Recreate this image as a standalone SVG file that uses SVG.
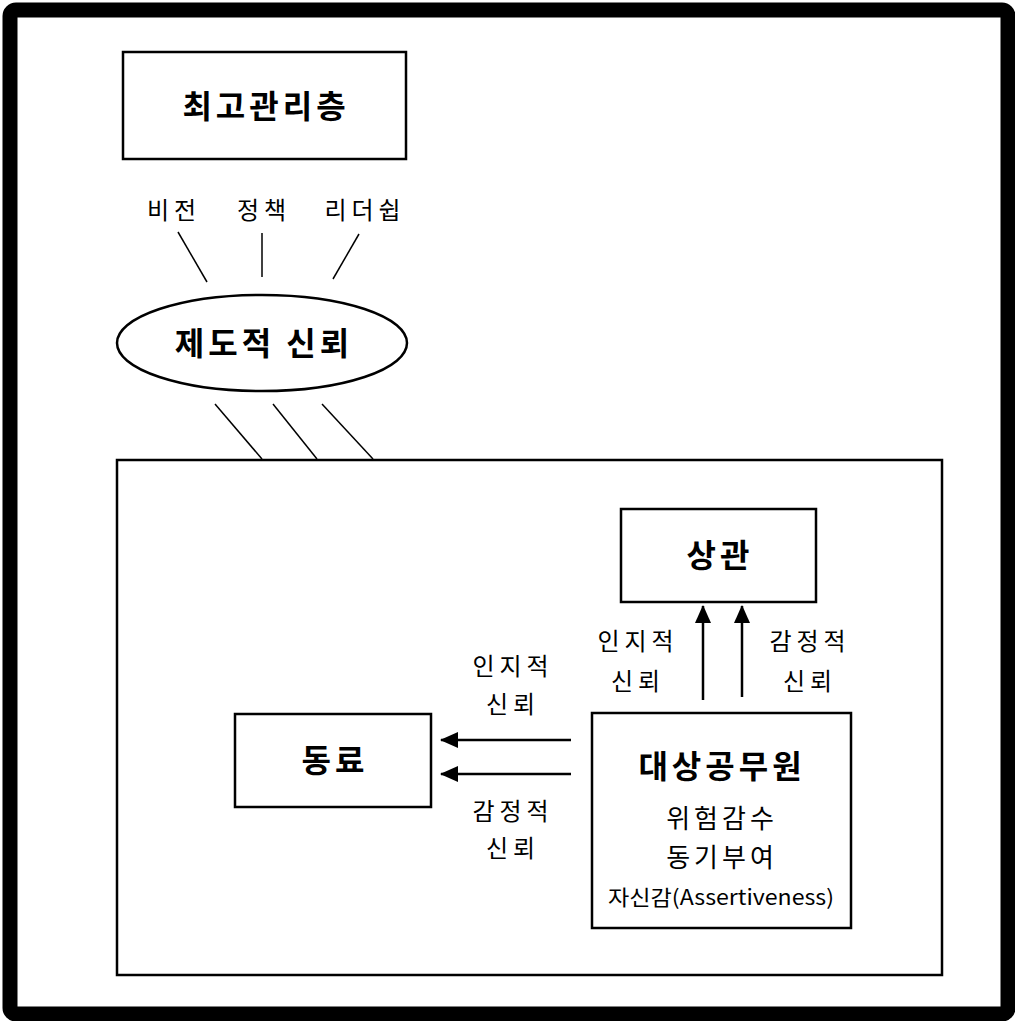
<svg xmlns="http://www.w3.org/2000/svg" width="1015" height="1021" viewBox="0 0 1015 1021">
<style>
text{font-family:"Noto Sans CJK KR","Noto Sans",sans-serif;fill:#000;text-anchor:middle}
.b{font-weight:bold;font-size:32px;letter-spacing:4px}
.l{font-size:24px;letter-spacing:5px}
.m{font-size:26px;letter-spacing:4px}
.box{fill:#fff;stroke:#000;stroke-width:2.5}
.ln{stroke:#000;stroke-width:1.5;fill:none}
.ar{stroke:#000;stroke-width:2.5;fill:none}
</style>
<defs>
<marker id="ah" viewBox="0 0 18 16" refX="17" refY="8" markerWidth="18" markerHeight="16" markerUnits="userSpaceOnUse" orient="auto">
<path d="M0,0 L18,8 L0,16 Z" fill="#000"/>
</marker>
</defs>
<rect x="10" y="10" width="998" height="1004" rx="6" fill="#fff" stroke="#000" stroke-width="15"/>
<g id="top-mgmt">
<rect class="box" x="123" y="52" width="283" height="107"/>
<text class="b" x="266" y="118">최고관리층</text>
</g>
<g id="labels-top">
<text class="l" x="174" y="219">비전</text>
<text class="l" x="264" y="219">정책</text>
<text class="l" x="365" y="219">리더쉽</text>
</g>
<g id="inst-trust">
<ellipse cx="262" cy="343" rx="145" ry="48" fill="#fff" stroke="#000" stroke-width="2.5"/>
<text class="b" x="264" y="355">제도적 신뢰</text>
</g>
<g id="org">
<rect class="box" x="117" y="460" width="825" height="515"/>
</g>
<g id="boss">
<rect class="box" x="621" y="509" width="195" height="93"/>
<text class="b" x="720" y="567">상관</text>
</g>
<g id="peer">
<rect class="box" x="235" y="714" width="196" height="93"/>
<text class="b" x="335" y="772">동료</text>
</g>
<g id="target">
<rect class="box" x="592" y="713" width="259" height="215"/>
<text class="b" x="722" y="778">대상공무원</text>
<text class="m" x="722" y="828">위험감수</text>
<text class="m" x="722" y="867">동기부여</text>
<text style="font-size:21px" x="721" y="905" textLength="226" lengthAdjust="spacingAndGlyphs">자신감(Assertiveness)</text>
</g>
<g id="connectors">
<line class="ln" x1="178" y1="232" x2="207" y2="282"/>
<line class="ln" x1="262" y1="233" x2="262" y2="277"/>
<line class="ln" x1="359" y1="234" x2="333" y2="279"/>
<line class="ln" x1="215" y1="404" x2="262" y2="459"/>
<line class="ln" x1="273" y1="404" x2="317" y2="459"/>
<line class="ln" x1="322" y1="404" x2="373" y2="459"/>
<line class="ar" x1="703" y1="700" x2="703" y2="606" marker-end="url(#ah)"/>
<line class="ar" x1="742" y1="697" x2="742" y2="606" marker-end="url(#ah)"/>
<line class="ar" x1="571" y1="740" x2="441" y2="740" marker-end="url(#ah)"/>
<line class="ar" x1="571" y1="774" x2="441" y2="774" marker-end="url(#ah)"/>
</g>
<g id="edge-labels">
<text class="l" x="638" y="650">인지적</text>
<text class="l" x="638" y="690">신뢰</text>
<text class="l" x="810" y="650">감정적</text>
<text class="l" x="810" y="690">신뢰</text>
<text class="l" x="513" y="675">인지적</text>
<text class="l" x="513" y="713">신뢰</text>
<text class="l" x="513" y="820">감정적</text>
<text class="l" x="513" y="857">신뢰</text>
</g>
</svg>
